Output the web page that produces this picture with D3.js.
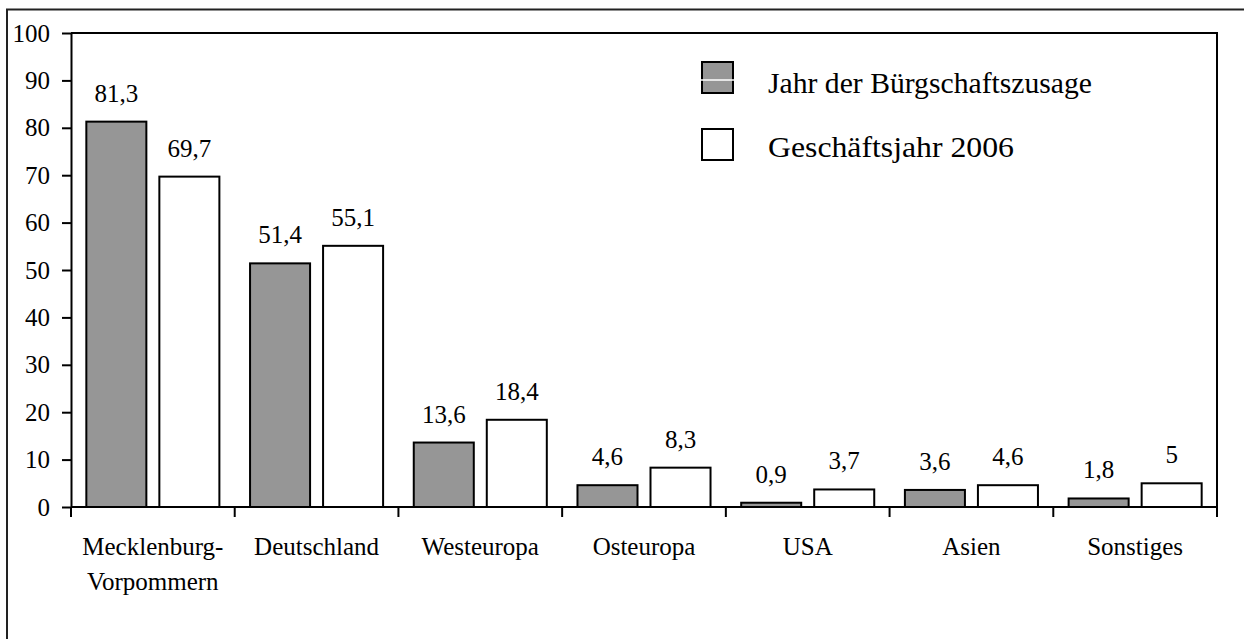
<!DOCTYPE html>
<html>
<head>
<meta charset="utf-8">
<script src="https://cdn.jsdelivr.net/npm/d3@7"></script>
<style>
  body { margin: 0; background: #fff; }
  svg text { font-family: "Liberation Serif", "Times New Roman", serif; fill: #000; }
</style>
</head>
<body>
<svg id="chart" width="1244" height="639"></svg>
<script>
// data
var categories = [["Mecklenburg-", "Vorpommern"], ["Deutschland"], ["Westeuropa"], ["Osteuropa"], ["USA"], ["Asien"], ["Sonstiges"]];
var seriesNames = ["Jahr der Bürgschaftszusage", "Geschäftsjahr 2006"];
var valuesZusage = [81.3, 51.4, 13.6, 4.6, 0.9, 3.6, 1.8];
var valuesGJ2006 = [69.7, 55.1, 18.4, 8.3, 3.7, 4.6, 5];
var yTicks = [0, 10, 20, 30, 40, 50, 60, 70, 80, 90, 100];
var colors = ["#969696", "#ffffff"];

var svg = d3.select("#chart");
var plotLeft = 71, plotRight = 1217, plotTop = 33, plotBottom = 507;
var fmt = function(v) { return String(v).replace(".", ","); };

// outer frame
svg.append("rect")
  .attr("x", 7).attr("y", 9.5)
  .attr("width", 1300).attr("height", 700)
  .attr("fill", "none").attr("stroke", "#222").attr("stroke-width", 2);

var x = d3.scaleBand().domain(d3.range(categories.length)).range([plotLeft, plotRight]);
var y = d3.scaleLinear().domain([0, 100]).range([plotBottom, plotTop]);
var inner = d3.scaleBand().domain([0, 1]).range([0, x.bandwidth()]).paddingInner(0.178).paddingOuter(0.21);

// plot border (top and right)
svg.append("path")
  .attr("d", "M" + plotLeft + "," + plotTop + "H" + plotRight + "V" + plotBottom)
  .attr("fill", "none").attr("stroke", "#000").attr("stroke-width", 2);

// bars
var series = [valuesZusage, valuesGJ2006];
series.forEach(function(vals, s) {
  var g = svg.append("g");
  g.selectAll("rect").data(vals).enter().append("rect")
    .attr("x", function(d, i) { return x(i) + inner(s); })
    .attr("y", function(d) { return y(d); })
    .attr("width", inner.bandwidth())
    .attr("height", function(d) { return plotBottom - y(d); })
    .attr("fill", colors[s]).attr("stroke", "#000").attr("stroke-width", 2);
  g.selectAll("text").data(vals).enter().append("text")
    .attr("x", function(d, i) { return x(i) + inner(s) + inner.bandwidth() / 2; })
    .attr("y", function(d) { return y(d) - 20; })
    .attr("text-anchor", "middle")
    .style("font-size", "25px")
    .text(fmt);
});

// y axis
var yAxis = svg.append("g").attr("transform", "translate(" + plotLeft + ",0)")
  .call(d3.axisLeft(y).tickValues(yTicks).tickSize(9).tickPadding(12).tickSizeOuter(0));
yAxis.select(".domain").attr("stroke", "#000").attr("stroke-width", 2);
yAxis.selectAll(".tick line").attr("stroke", "#000").attr("stroke-width", 2);
yAxis.selectAll(".tick text").style("font-size", "25px");

// x axis with ticks on band boundaries
svg.append("line")
  .attr("x1", plotLeft).attr("x2", plotRight).attr("y1", plotBottom).attr("y2", plotBottom)
  .attr("stroke", "#000").attr("stroke-width", 2);
var bounds = d3.range(categories.length + 1).map(function(i) { return plotLeft + i * x.step(); });
svg.selectAll(".xtick").data(bounds).enter().append("line")
  .attr("x1", function(d) { return d; }).attr("x2", function(d) { return d; })
  .attr("y1", plotBottom).attr("y2", plotBottom + 10)
  .attr("stroke", "#000").attr("stroke-width", 2);

var labels = svg.selectAll(".xlab").data(categories).enter().append("text")
  .attr("text-anchor", "middle")
  .style("font-size", "25px");
labels.each(function(lines, i) {
  d3.select(this).selectAll("tspan").data(lines).enter().append("tspan")
    .attr("x", x(i) + x.bandwidth() / 2)
    .attr("y", function(d, k) { return 555 + k * 35; })
    .text(function(d) { return d; });
});

// legend
var legendWidth = [324, 246];
var legend = svg.append("g");
seriesNames.forEach(function(name, s) {
  var ly = 62 + s * 67;
  legend.append("rect")
    .attr("x", 702).attr("y", ly).attr("width", 31).attr("height", 31)
    .attr("fill", colors[s]).attr("stroke", "#000").attr("stroke-width", 2);
  if (s === 0) {
    legend.append("line")
      .attr("x1", 701).attr("x2", 734).attr("y1", ly + 18).attr("y2", ly + 18)
      .attr("stroke", "#fff").attr("stroke-width", 1.5);
  }
  legend.append("text")
    .attr("x", 768).attr("y", ly + 31 - s * 3)
    .attr("textLength", legendWidth[s])
    .attr("lengthAdjust", "spacingAndGlyphs")
    .style("font-size", "29px")
    .text(name);
});
</script>
</body>
</html>
